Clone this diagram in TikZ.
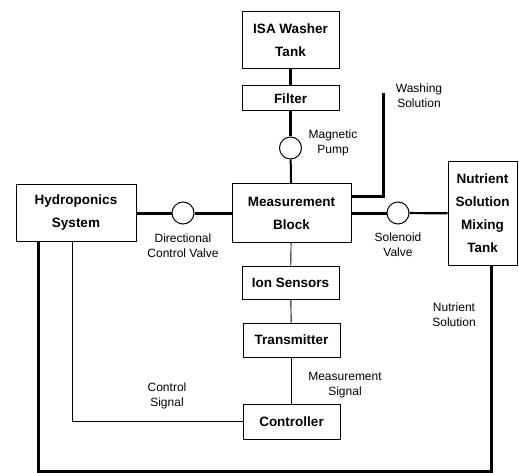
\documentclass[tikz,border=0pt]{standalone}
\usepackage{fontspec}
\setmainfont{Liberation Sans}
\usetikzlibrary{positioning}

\begin{document}
\begin{tikzpicture}[x=1pt, y=-1pt,
  box/.style={draw, line width=1pt, align=center, inner sep=0pt,
    font=\bfseries\fontsize{13.5}{23}\selectfont},
  valve/.style={draw, circle, line width=1pt, minimum size=22pt, inner sep=0pt},
  pipe/.style={line width=3pt},
  signal/.style={line width=0.9pt},
  lbl/.style={align=center, inner sep=0pt, font=\fontsize{12}{15}\selectfont}]
  \useasboundingbox (0,0) rectangle (519,473);
  \node[box, minimum width=97pt, minimum height=57pt] (isa) at (290.5,40.5) {ISA Washer\\Tank};
  \node[box, minimum width=97pt, minimum height=25pt] (filter) at (290.5,98.5) {Filter};
  \node[valve] (pump) at (290.5,148) {};
  \node[box, minimum width=119pt, minimum height=58pt] (meas) at (291.5,213) {Measurement\\Block};
  \node[box, minimum width=120pt, minimum height=57pt] (hydro) at (76,213) {Hydroponics\\System};
  \node[valve] (dcv) at (183,213) {};
  \node[valve] (sol) at (398,213) {};
  \node[box, minimum width=69pt, minimum height=103pt] (tank) at (482.5,213.5) {Nutrient\\Solution\\Mixing\\Tank};
  \node[box, minimum width=97pt, minimum height=33pt] (ion) at (290.5,282.5) {Ion Sensors};
  \node[box, minimum width=97pt, minimum height=34pt] (trans) at (291.5,340) {Transmitter};
  \node[box, minimum width=97pt, minimum height=35pt] (ctrl) at (291.5,421.5) {Controller};
  \coordinate (ws) at (383,93);
  \coordinate (ret) at (491,471);
  % labels
  \node[lbl] (pumplbl) at (333,143) {Magnetic\\Pump};
  \node[lbl] (wslbl) at (419,96) {Washing\\Solution};
  \node[lbl] (dcvlbl) at (183,246) {Directional\\Control Valve};
  \node[lbl] (sollbl) at (398,245) {Solenoid\\Valve};
  \node[lbl] (nslbl) at (454,314.5) {Nutrient\\Solution};
  \node[lbl] (mslbl) at (345,385) {Measurement\\Signal};
  \node[lbl] (cslbl) at (167,396) {Control\\Signal};
  % pipes
  \draw[pipe] (isa) -- (filter);
  \draw[pipe] (filter) -- (pump);
  \draw[line width=2pt] (pump) -- (meas);
  \draw[pipe] (ws) |- ([yshift=16pt]meas.east);
  \draw[pipe] (hydro) -- (dcv);
  \draw[pipe] (dcv) -- (meas);
  \draw[pipe] (meas) -- (sol);
  \draw[line width=2.2pt] (sol) -- (tank);
  \draw[pipe] ([xshift=-38pt]hydro.south) |- (ret) -- ([xshift=8.5pt]tank.south);
  % signals
  \draw[signal] (meas) -- (ion);
  \draw[signal] (ion) -- (trans);
  \draw[signal] (trans) -- (ctrl);
  \draw[signal] (ctrl.west) -| ([xshift=-4pt]hydro.south);
\end{tikzpicture}
\end{document}
